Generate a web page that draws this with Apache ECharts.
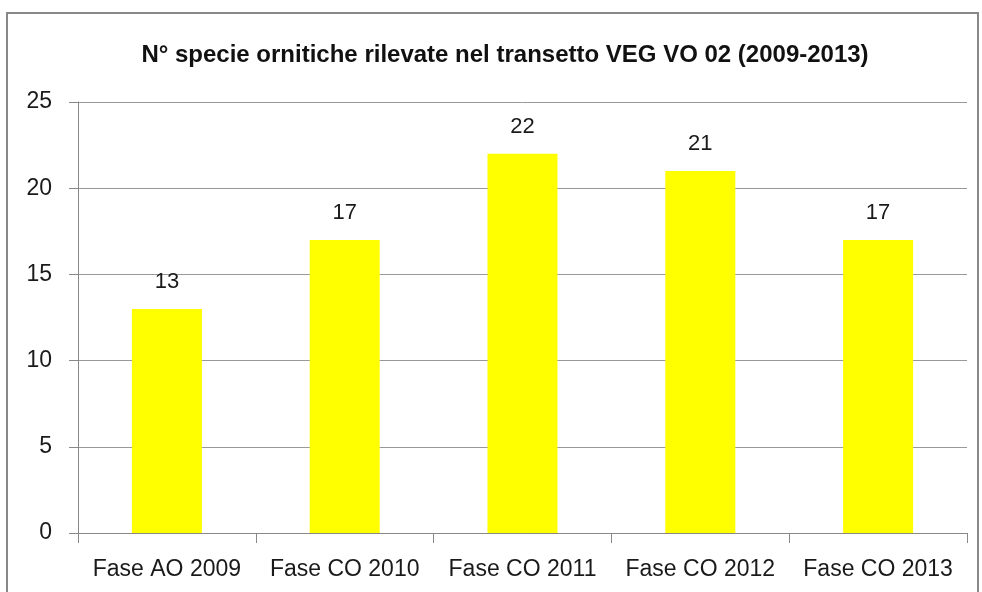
<!DOCTYPE html>
<html lang="it">
<head>
<meta charset="UTF-8">
<title>N° specie ornitiche</title>
<script src="https://cdn.jsdelivr.net/npm/echarts@6/dist/echarts.min.js"></script>
<style>
  html, body { margin: 0; height: 100%; background: #fff; }
  #main { width: 982px; height: 592px; }
</style>
</head>
<body>
<div id="main"></div>
<script>
// dati
var fasi = ['Fase AO 2009', 'Fase CO 2010', 'Fase CO 2011', 'Fase CO 2012', 'Fase CO 2013'];
var specie = [13, 17, 22, 21, 17];
var titolo = 'N° specie ornitiche rilevate nel transetto VEG VO 02 (2009-2013)';

var myChart = echarts.init(document.getElementById('main'));
var font = '"Liberation Sans", Arial, sans-serif';

var option = {
  animation: false,
  textStyle: { fontFamily: font },
  title: {
    text: titolo,
    left: 500,
    textAlign: 'center',
    top: 38,
    textStyle: { fontFamily: font, fontSize: 24, fontWeight: 'bold', color: '#111' }
  },
  graphic: [{
    type: 'rect',
    shape: { x: 7, y: 13, width: 971, height: 600 },
    style: { fill: 'none', stroke: '#888', lineWidth: 2 },
    silent: true
  }],
  grid: { left: 78, right: 15, top: 102, bottom: 59 },
  xAxis: {
    type: 'category',
    data: fasi,
    axisLine: { lineStyle: { color: '#888', width: 1 } },
    axisTick: { show: true, length: 10, lineStyle: { color: '#888' } },
    axisLabel: { fontFamily: font, fontSize: 23, color: '#1a1a1a', margin: 25, interval: 0 }
  },
  yAxis: {
    type: 'value',
    min: 0,
    max: 25,
    interval: 5,
    axisLine: { show: true, lineStyle: { color: '#888', width: 1 } },
    axisTick: { show: true, length: 9, lineStyle: { color: '#888' } },
    splitLine: { lineStyle: { color: '#999', width: 1 } },
    axisLabel: { fontFamily: font, fontSize: 23, color: '#1a1a1a', margin: 26 }
  },
  series: [{
    type: 'bar',
    data: specie,
    barWidth: 70,
    itemStyle: { color: '#ffff00' },
    label: {
      show: true,
      position: 'top',
      distance: 16,
      fontFamily: font,
      fontSize: 22,
      color: '#1a1a1a'
    },
    z: 3
  }]
};

myChart.setOption(option);
</script>
</body>
</html>
